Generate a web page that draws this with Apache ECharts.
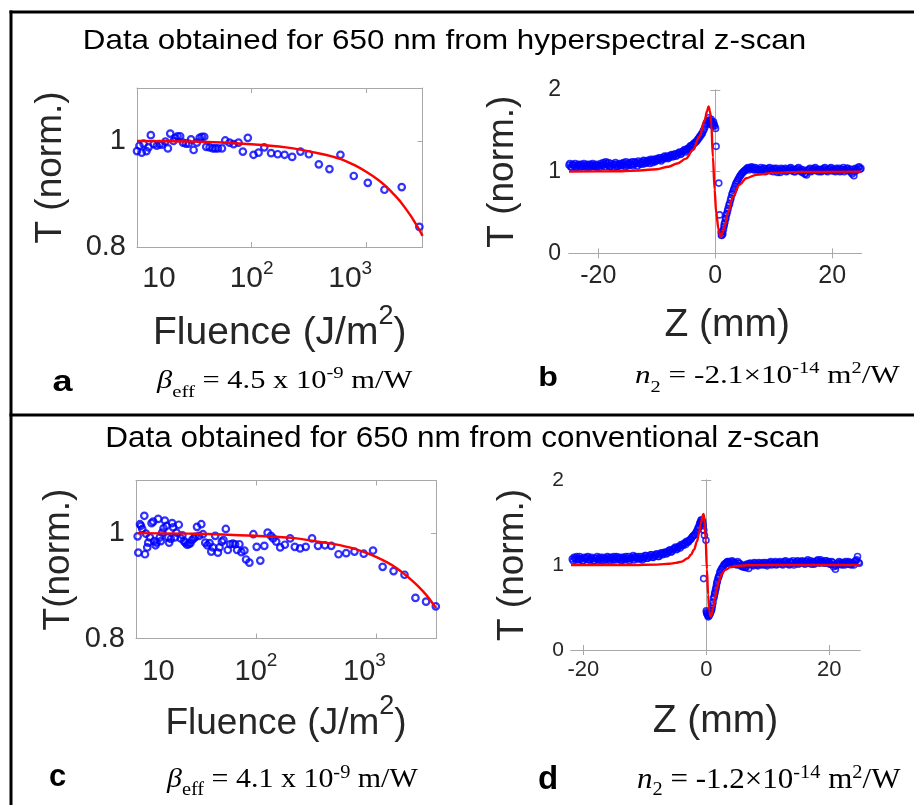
<!DOCTYPE html>
<html><head><meta charset="utf-8">
<script src="https://cdn.jsdelivr.net/npm/echarts@6/dist/echarts.min.js"></script>
<style>html,body{margin:0;padding:0;background:#fff}#c{width:914px;height:805px}</style>
</head><body><div id="c"></div>
<script>
// ---------- Panel a : hyperspectral, T vs fluence ----------
const fluenceA = [10.0,10.5,11.0,11.4,12.1,12.6,13.2,14.0,14.9,15.7,
  16.5,17.7,18.6,19.5,20.8,21.6,22.6,23.8,25.2,26.7,
  28.2,29.6,31.2,33.3,35.2,36.8,38.6,40.2,43.0,45.9,
  48.2,50.8,55.1,58.9,64.2,69.6,76.9,83.9,92.7,104,
  115,129,148,169,194,226,267,316,386,478,
  596,779,1033,1443,2042,2911];
const transA = [0.981,0.991,0.978,0.995,0.981,0.988,1.011,0.994,0.991,0.994,
  0.993,0.999,0.986,1.014,1.000,1.006,1.009,1.009,0.997,0.995,
  0.995,1.003,0.983,0.997,1.006,1.008,1.008,0.989,0.988,0.986,
  0.986,0.986,0.986,1.001,0.997,0.994,0.997,0.980,1.006,0.974,
  0.978,0.988,0.977,0.975,0.974,0.970,0.980,0.975,0.956,0.947,
  0.974,0.934,0.921,0.908,0.913,0.838];
const fitFluenceA = [10,30,100,200,400,600,800,1000,1250,1500,1750,2000,2250,2500,2750,3000,3100];
const fitTransA   = [1.0,0.999,0.994,0.988,0.976,0.966,0.954,0.942,0.928,0.914,0.899,0.885,0.870,0.856,0.841,0.827,0.821];

// ---------- Panel b : hyperspectral z-scan ----------
const zB = [-25.0,-24.7,-24.4,-24.1,-23.8,-23.5,-23.2,-22.9,-22.6,-22.3,-22.0,-21.7,-21.4,-21.1,-20.8,-20.5,-20.2,-19.9,-19.6,-19.3,
  -19.0,-18.7,-18.4,-18.1,-17.8,-17.5,-17.2,-16.9,-16.6,-16.3,-16.0,-15.7,-15.4,-15.1,-14.8,-14.5,-14.2,-13.9,-13.6,-13.3,
  -13.0,-12.7,-12.4,-12.1,-11.8,-11.5,-11.2,-10.9,-10.6,-10.3,-10.0,-9.7,-9.4,-9.1,-8.8,-8.5,-8.2,-7.9,-7.6,-7.3,
  -7.0,-6.7,-6.4,-6.1,-5.8,-5.5,-5.2,-4.9,-4.6,-4.3,-4.0,-3.7,-3.4,-3.1,-2.8,-2.5,
  -2.2,-1.9,-1.6,-1.3,-1.1,-0.9,-0.7,-0.5,-0.3,-0.1,0.15,0.6,0.74,1.0,1.15,1.3,1.5,1.65,1.8,2.0,2.2,2.45,2.7,2.95,
  3.2,3.5,3.8,4.1,4.4,4.7,5.0,5.3,5.6,5.9,6.2,6.5,6.8,7.1,
  7.5,7.8,8.1,8.4,8.7,9.0,9.3,9.6,9.9,10.2,10.5,10.8,11.1,11.4,11.7,12.0,12.3,12.6,12.9,13.2,
  13.5,13.8,14.1,14.4,14.7,15.0,15.3,15.6,15.9,16.2,16.5,16.8,17.1,17.4,17.7,18.0,18.3,18.6,18.9,19.2,
  19.5,19.8,20.1,20.4,20.7,21.0,21.3,21.6,21.9,22.2,22.5,22.8,23.1,23.4,23.7,24.0,24.3,24.6,24.9];
const tB = [1.08,1.06,1.09,1.07,1.05,1.08,1.07,1.09,1.06,1.08,1.05,1.07,1.09,1.06,1.08,1.07,1.05,1.08,1.10,1.07,
  1.09,1.12,1.08,1.06,1.10,1.08,1.05,1.09,1.07,1.10,1.08,1.11,1.06,1.09,1.10,1.08,1.12,1.09,1.11,1.07,
  1.10,1.12,1.09,1.13,1.11,1.14,1.10,1.13,1.15,1.12,1.16,1.14,1.17,1.15,1.18,1.16,1.19,1.17,1.20,1.18,
  1.21,1.19,1.22,1.24,1.22,1.25,1.27,1.26,1.29,1.31,1.30,1.34,1.36,1.38,1.41,1.44,
  1.47,1.52,1.58,1.63,1.66,1.60,1.64,1.58,1.61,1.56,1.31,0.86,0.47,0.26,0.22,0.24,0.33,0.38,0.43,0.49,0.55,0.61,0.68,0.74,
  0.79,0.85,0.89,0.93,0.96,0.99,1.01,1.03,1.05,1.04,1.06,1.03,1.05,1.02,
  1.03,1.05,1.02,1.04,1.01,1.03,1.05,1.02,1.00,1.03,1.04,1.01,0.99,1.03,1.02,1.04,1.01,1.03,1.05,1.02,
  1.00,1.03,1.04,1.01,1.03,1.00,0.97,0.96,1.02,1.04,1.01,1.03,1.05,1.02,1.00,1.03,1.01,1.04,1.02,1.00,
  1.03,1.05,1.02,1.01,1.04,1.02,1.00,1.03,1.05,1.02,1.04,1.01,1.03,0.97,0.95,1.04,1.02,1.06,1.04];
// second sweep of panel b (interleaved positions)
const zB2 = [-24.85,-24.55,-24.25,-23.95,-23.65,-23.35,-23.05,-22.75,-22.45,-22.15,
  -21.85,-21.55,-21.25,-20.95,-20.65,-20.35,-20.05,-19.75,-19.45,-19.15,
  -18.85,-18.55,-18.25,-17.95,-17.65,-17.35,-17.05,-16.75,-16.45,-16.15,
  -15.85,-15.55,-15.25,-14.95,-14.65,-14.35,-14.05,-13.75,-13.45,-13.15,
  -12.85,-12.55,-12.25,-11.95,-11.65,-11.35,-11.05,-10.75,-10.45,-10.15,
  -9.85,-9.55,-9.25,-8.95,-8.65,-8.35,-8.05,-7.75,-7.45,-7.15,
  -6.85,-6.55,-6.25,-5.95,-5.65,-5.35,-5.05,-4.75,-4.45,-4.15,
  -3.85,-3.55,-3.25,-2.95,-2.65,
  -2.35,-2.05,-1.75,-1.45,-1.2,-1.0,-0.8,-0.6,-0.4,-0.2,0.05,1.05,1.2,1.4,1.55,1.75,1.9,2.1,2.35,2.6,
  2.85,3.1,3.35,3.65,3.95,4.25,4.55,4.85,5.15,5.45,5.75,6.05,6.35,6.65,6.95,7.25,
  7.65,7.95,8.25,8.55,8.85,9.15,9.45,9.75,10.05,10.35,
  10.65,10.95,11.25,11.55,11.85,12.15,12.45,12.75,13.05,13.35,
  13.65,13.95,14.25,14.55,14.85,15.15,15.45,15.75,16.05,16.35,
  16.65,16.95,17.25,17.55,17.85,18.15,18.45,18.75,19.05,19.35,
  19.65,19.95,20.25,20.55,20.85,21.15,21.45,21.75,22.05,22.35,
  22.65,22.95,23.25,23.55,23.85,24.15,24.45,24.75];
const tB2 = [1.10,1.05,1.08,1.10,1.06,1.09,1.05,1.07,1.10,1.07,
  1.09,1.05,1.08,1.10,1.06,1.09,1.07,1.05,1.08,1.11,
  1.06,1.10,1.11,1.07,1.05,1.09,1.11,1.06,1.09,1.07,
  1.10,1.08,1.12,1.07,1.11,1.09,1.07,1.12,1.10,1.13,
  1.09,1.11,1.14,1.10,1.13,1.12,1.15,1.11,1.14,1.13,
  1.15,1.17,1.13,1.16,1.19,1.17,1.16,1.19,1.21,1.19,
  1.22,1.20,1.23,1.21,1.24,1.26,1.24,1.28,1.27,1.32,
  1.33,1.35,1.37,1.40,1.43,
  1.46,1.50,1.55,1.60,1.62,1.58,1.62,1.60,1.56,1.58,1.53,0.22,0.26,0.29,0.36,0.42,0.47,0.52,0.59,0.65,
  0.72,0.77,0.82,0.87,0.91,0.95,0.98,1.00,1.02,1.04,1.02,1.04,1.05,1.02,1.04,1.03,
  1.01,1.03,1.04,1.00,1.02,1.04,1.01,1.03,1.04,1.01,
  0.99,1.02,1.04,1.01,1.03,1.00,1.02,1.04,1.01,1.03,
  1.00,1.02,1.05,1.01,0.99,1.02,0.98,1.01,1.03,1.00,
  1.02,1.04,1.01,1.03,1.02,1.00,1.03,1.05,1.01,1.02,
  1.04,1.01,1.03,1.00,1.02,1.04,1.01,1.03,1.00,1.02,
  1.04,1.01,0.99,1.03,1.00,1.02,1.05,1.03];
const fitZB = [-25,-16,-13,-10,-8,-6.5,-5,-3.8,-2.7,-1.8,-1.4,-1.14,-0.9,-0.68,-0.4,-0.11,0.17,0.57,0.91,1.2,1.6,2.17,3.0,4.16,5.3,7.0,9.9,14,25];
const fitTB = [1.0,1.005,1.015,1.03,1.06,1.10,1.16,1.27,1.43,1.63,1.74,1.80,1.74,1.59,1.18,0.78,0.49,0.29,0.20,0.25,0.33,0.49,0.69,0.84,0.92,0.96,0.985,0.997,1.0];

// ---------- Panel c : conventional, T vs fluence ----------
const fluenceC = [10.32,10.45,10.79,11.0,11.28,11.73,11.88,12.1,12.41,12.65,
  13.06,13.48,13.92,14.19,14.55,14.84,15.31,15.8,16.11,16.53,
  16.96,17.39,17.95,18.53,18.89,19.5,20.0,20.39,21.05,21.73,
  22.72,23.6,24.36,25.15,25.79,26.63,27.49,28.38,29.31,30.25,
  31.23,32.24,33.49,35.02,36.14,37.78,39.26,41.05,42.38,43.75,
  45.74,48.13,49.68,51.94,53.62,56.05,58.23,60.88,64.06,66.98,
  69.58,72.75,75.57,80.06,82.64,88.05,95.06,101.3,108.6,117.3,
  125,133.2,139.2,147.4,159.1,173.9,192.5,210.5,233.1,259.7,
  293.1,328.6,375.5,423.8,487.4,564.2,661.4,790.4,944.5,1136,
  1401,1728,2132,2613,3150];
const transC = [0.994,0.963,1.017,1.014,1.008,1.033,0.960,0.999,0.973,0.982,
  0.992,1.019,1.022,0.985,0.977,0.982,1.027,0.992,0.985,1.001,
  1.009,1.024,1.014,0.992,0.982,0.989,1.019,1.011,0.992,1.001,
  1.016,0.990,0.996,0.985,0.982,0.978,0.979,0.981,0.987,0.990,
  0.993,1.012,0.995,1.017,0.998,0.982,0.977,0.981,0.965,0.973,
  0.995,0.963,0.973,0.984,0.987,1.008,0.968,0.979,0.980,0.979,
  0.968,0.979,0.964,0.967,0.950,0.944,0.998,0.974,0.948,0.976,
  1.001,0.995,0.990,0.984,0.973,0.978,0.990,0.974,0.971,0.974,
  0.990,0.976,0.977,0.976,0.960,0.962,0.965,0.961,0.967,0.936,
  0.928,0.921,0.877,0.870,0.861];
const fitFluenceC = [10.3,30,100,200,400,600,800,1000,1250,1500,1750,2000,2250,2500,2750,3000,3162];
const fitTransC   = [1.0,0.999,0.995,0.991,0.981,0.973,0.964,0.955,0.944,0.933,0.921,0.910,0.899,0.888,0.877,0.865,0.858];

// ---------- Panel d : conventional z-scan ----------
const zD = [-21.8,-21.5,-21.2,-20.9,-20.6,-20.3,-20.0,-19.7,-19.4,-19.1,-18.8,-18.5,-18.2,-17.9,-17.6,-17.3,-17.0,-16.7,-16.4,-16.1,
  -15.8,-15.5,-15.2,-14.9,-14.6,-14.3,-14.0,-13.7,-13.4,-13.1,-12.8,-12.5,-12.2,-11.9,-11.6,-11.3,-11.0,-10.7,-10.4,-10.1,
  -9.8,-9.5,-9.2,-8.9,-8.6,-8.3,-8.0,-7.7,-7.4,-7.1,-6.8,-6.5,-6.2,-5.9,-5.6,-5.3,-5.0,-4.7,-4.4,-4.1,
  -3.8,-3.5,-3.2,-2.9,-2.6,-2.3,-2.0,-1.7,-1.4,
  -1.2,-1.0,-0.85,-0.7,-0.6,-0.5,-0.43,-0.4,-0.3,-0.05,0.0,0.1,0.25,0.4,0.55,0.7,0.85,1.0,1.2,1.35,
  1.5,1.65,1.8,2.0,2.2,2.45,2.7,3.0,3.3,
  3.6,3.9,4.2,4.5,4.8,5.1,5.4,5.7,6.0,6.3,6.6,6.9,7.2,7.5,7.8,8.1,8.4,8.7,9.0,9.3,
  9.6,9.9,10.2,10.5,10.8,11.1,11.4,11.7,12.0,12.3,12.6,12.9,13.2,13.5,13.8,14.1,14.4,14.7,15.0,15.3,
  15.6,15.9,16.2,16.5,16.8,17.1,17.4,17.7,18.0,18.3,18.6,18.9,19.2,19.5,19.8,20.1,20.4,20.7,21.0,21.3,
  21.6,21.9,22.2,22.5,22.8,23.1,23.4,23.7,24.0,24.3,24.6,24.9];
const tD = [1.07,1.09,1.06,1.08,1.10,1.07,1.05,1.08,1.09,1.06,1.08,1.07,1.05,1.08,1.06,1.09,1.07,1.05,1.08,1.10,
  1.07,1.09,1.06,1.08,1.10,1.07,1.09,1.06,1.08,1.10,1.07,1.05,1.08,1.11,1.09,1.07,1.10,1.08,1.06,1.09,
  1.11,1.08,1.10,1.12,1.09,1.11,1.13,1.10,1.14,1.12,1.15,1.13,1.16,1.18,1.16,1.19,1.21,1.19,1.22,1.24,
  1.23,1.26,1.28,1.27,1.30,1.33,1.35,1.38,1.42,
  1.45,1.50,1.53,1.49,1.52,1.46,0.84,1.41,1.35,1.29,0.46,0.43,0.41,0.40,0.42,0.44,0.47,0.52,0.61,0.66,
  0.71,0.76,0.81,0.86,0.91,0.95,0.98,1.01,1.03,
  1.04,1.02,1.05,1.03,1.01,1.04,1.02,1.00,0.98,0.97,1.01,0.96,1.02,1.00,1.03,1.01,0.99,1.02,1.00,1.03,
  1.01,0.99,1.02,1.04,1.01,1.03,1.00,1.02,1.04,1.01,1.03,1.05,1.02,1.00,1.03,1.05,1.02,1.04,1.01,1.03,
  1.05,1.02,1.04,1.06,1.03,1.01,1.04,1.02,1.05,1.03,1.06,1.04,1.02,1.05,1.03,1.01,1.04,0.98,0.95,1.02,
  1.04,1.01,1.03,1.00,1.02,1.04,1.01,1.03,1.00,1.05,1.10,1.02];
// second sweep of panel d (interleaved positions)
const zD2 = [-21.65,-21.35,-21.05,-20.75,-20.45,-20.15,-19.85,-19.55,-19.25,-18.95,
  -18.65,-18.35,-18.05,-17.75,-17.45,-17.15,-16.85,-16.55,-16.25,-15.95,
  -15.65,-15.35,-15.05,-14.75,-14.45,-14.15,-13.85,-13.55,-13.25,-12.95,
  -12.65,-12.35,-12.05,-11.75,-11.45,-11.15,-10.85,-10.55,-10.25,-9.95,
  -9.65,-9.35,-9.05,-8.75,-8.45,-8.15,-7.85,-7.55,-7.25,-6.95,
  -6.65,-6.35,-6.05,-5.75,-5.45,-5.15,-4.85,-4.55,-4.25,-3.95,
  -3.65,-3.35,-3.05,-2.75,-2.45,-2.15,-1.85,-1.55,
  -1.3,-1.1,-0.95,-0.75,-0.55,0.05,0.18,0.32,0.48,0.62,0.78,0.92,1.1,1.28,1.42,1.58,1.72,1.9,2.1,2.3,2.55,2.85,3.15,3.45,
  3.75,4.05,4.35,4.65,4.95,5.25,5.55,5.85,6.15,6.45,
  6.75,7.05,7.35,7.65,7.95,8.25,8.55,8.85,9.15,9.45,
  9.75,10.05,10.35,10.65,10.95,11.25,11.55,11.85,12.15,12.45,
  12.75,13.05,13.35,13.65,13.95,14.25,14.55,14.85,15.15,15.45,
  15.75,16.05,16.35,16.65,16.95,17.25,17.55,17.85,18.15,18.45,
  18.75,19.05,19.35,19.65,19.95,20.25,20.55,20.85,21.15,21.45,
  21.75,22.05,22.35,22.65,22.95,23.25,23.55,23.85,24.15,24.45,24.75];
const tD2 = [1.05,1.08,1.10,1.06,1.08,1.05,1.09,1.07,1.10,1.06,
  1.09,1.05,1.08,1.10,1.07,1.05,1.09,1.08,1.06,1.09,
  1.05,1.08,1.10,1.06,1.09,1.07,1.05,1.09,1.06,1.08,
  1.10,1.07,1.09,1.06,1.10,1.08,1.07,1.10,1.08,1.11,
  1.08,1.10,1.12,1.09,1.11,1.13,1.10,1.12,1.14,1.13,
  1.15,1.14,1.17,1.15,1.18,1.20,1.18,1.21,1.20,1.23,
  1.25,1.24,1.27,1.29,1.31,1.34,1.36,1.40,
  1.44,1.48,1.50,1.53,1.49,0.44,0.42,0.39,0.41,0.43,0.46,0.49,0.56,0.63,0.68,0.73,0.79,0.84,0.88,0.93,0.96,1.00,1.02,1.04,
  1.02,1.04,1.01,1.03,1.00,1.02,0.99,0.98,1.00,0.97,
  1.00,1.02,1.01,0.99,1.02,1.00,1.03,1.01,1.02,1.00,
  1.03,1.01,1.03,1.00,1.02,1.04,1.01,1.03,1.02,1.00,
  1.04,1.02,1.01,1.04,1.02,1.00,1.03,1.05,1.02,1.04,
  1.03,1.01,1.04,1.02,1.05,1.03,1.01,1.04,1.06,1.02,
  1.04,1.03,1.05,1.02,1.04,1.01,1.03,1.00,0.99,1.01,
  1.03,1.00,1.02,1.04,1.01,1.03,1.00,1.02,1.04,1.06,1.03];
const fitZD = [-22,-12,-8,-6,-5,-4,-3,-2.5,-2,-1.5,-1.2,-0.9,-0.6,-0.45,-0.3,-0.1,0.1,0.3,0.5,0.7,0.9,1.1,1.4,1.7,2.0,2.5,3,4,5,7,10,25];
const fitTD = [1.0,1.0,1.005,1.015,1.025,1.04,1.08,1.12,1.18,1.28,1.37,1.48,1.58,1.60,1.55,1.30,0.95,0.65,0.45,0.395,0.42,0.49,0.60,0.71,0.80,0.89,0.94,0.975,0.99,0.997,1.0,1.0];

// ---------- tick labels / names ----------
const yTicksA = [0.8, 1];
const yTicksB = [0, 1, 2];
const zTicks = [-20, 0, 20];
const titles = ['Data obtained for 650 nm from hyperspectral z-scan', 'Data obtained for 650 nm from conventional z-scan'];

const zip = (a, b) => a.map((v, i) => [v, b[i]]);
const GRAY = '#a8a8a8', TXT = '#262626';
const SANS = '"Liberation Sans", Arial, Helvetica, sans-serif';
const SERIF = '"Liberation Serif", "Times New Roman", serif';

function logFmt(v) {
  const l = Math.log10(v), e = Math.round(l);
  if (Math.abs(l - e) > 1e-6) return '';
  if (e === 1) return '{p|10}';
  if (e === 2) return '{b|10}{s|2}';
  if (e === 3) return '{b|10}{t|3}';
  return '';
}
function logRich(fs, padP, padT) {
  return {
    p: {fontSize: fs, lineHeight: 40, fontFamily: SANS, color: TXT, padding: [0, 0, 0, padP]},
    b: {fontSize: fs, lineHeight: 40, fontFamily: SANS, color: TXT},
    s: {fontSize: 19, lineHeight: 20, verticalAlign: 'top', fontFamily: SANS, color: TXT},
    t: {fontSize: 19, lineHeight: 20, verticalAlign: 'top', fontFamily: SANS, color: TXT, padding: [0, padT, 0, 0]}
  };
}
const lineAx = {show: true, lineStyle: {color: GRAY, width: 1}};
const tickIn = {show: true, inside: true, length: 5, lineStyle: {color: GRAY, width: 1}};

const grids = [
  {left: 137, top: 88, width: 285.5, height: 159},
  {left: 569, top: 90, width: 292.5, height: 163.3},
  {left: 136, top: 480.5, width: 300, height: 158},
  {left: 571, top: 480, width: 289, height: 170}
];

const xAxis = [], yAxis = [], series = [];
const ringStyle = w => ({color: 'rgba(0,0,0,0)', borderColor: '#0000ff', borderWidth: w});

function fluencePanel(g, xmax, fluence, trans, fitF, fitT, cfg) {
  xAxis.push({
    type: 'log', logBase: 10, gridIndex: g, min: 10, max: xmax, position: 'bottom',
    axisLine: lineAx, axisTick: tickIn, splitLine: {show: false}, minorTick: {show: false},
    axisLabel: {margin: cfg.lblMargin, showMinLabel: true, showMaxLabel: false, formatter: logFmt,
      rich: logRich(cfg.xfs, cfg.padP, cfg.padT)},
    name: 'Fluence (J/m{s|2})', nameLocation: 'middle', nameGap: cfg.xNameGap,
    nameTextStyle: {fontSize: cfg.xNameFs, lineHeight: 60, fontFamily: SANS, color: TXT,
      rich: {s: {fontSize: 27, lineHeight: 27, verticalAlign: 'top', fontFamily: SANS, color: TXT}}}
  });
  xAxis.push({
    type: 'log', logBase: 10, gridIndex: g, min: 10, max: xmax, position: 'top',
    axisLine: lineAx, axisTick: tickIn, axisLabel: {show: false}, splitLine: {show: false}
  });
  yAxis.push({
    type: 'value', gridIndex: g, min: 0.8, max: 1.1, position: 'left',
    axisLine: lineAx, axisTick: Object.assign({customValues: yTicksA}, tickIn), splitLine: {show: false},
    axisLabel: {customValues: yTicksA, margin: 11, fontSize: cfg.yfs, fontFamily: SANS, color: TXT,
      formatter: v => (Math.abs(v - 1) < 1e-9 ? '1' : v.toFixed(1))},
    name: cfg.yName, nameLocation: 'middle', nameGap: cfg.yNameGap, nameRotate: 90,
    nameTextStyle: {fontSize: 37, lineHeight: 37, fontFamily: SANS, color: TXT}
  });
  yAxis.push({
    type: 'value', gridIndex: g, min: 0.8, max: 1.1, position: 'right',
    axisLine: lineAx, axisTick: Object.assign({customValues: yTicksA}, tickIn), axisLabel: {show: false}, splitLine: {show: false}
  });
  const xi = xAxis.length - 2, yi = yAxis.length - 2;
  series.push({type: 'scatter', xAxisIndex: xi, yAxisIndex: yi, data: zip(fluence, trans), symbol: 'circle', symbolSize: 6.5,
    itemStyle: ringStyle(2.2), z: 3});
  series.push({type: 'line', xAxisIndex: xi, yAxisIndex: yi, data: zip(fitF, fitT), showSymbol: false, smooth: 0.3,
    lineStyle: {color: '#ff0000', width: 2.4}, z: 5});
}

function zPanel(g, xmin, xmax, z, t, z2, t2, fz, ft, cfg) {
  xAxis.push({
    type: 'value', gridIndex: g, min: xmin, max: xmax, position: 'bottom',
    axisLine: lineAx, axisTick: Object.assign({customValues: zTicks}, tickIn), splitLine: {show: false},
    axisLabel: {customValues: zTicks, margin: cfg.lblMargin, fontSize: cfg.xfs, fontFamily: SANS, color: TXT},
    name: 'Z (mm)', nameLocation: 'middle', nameGap: cfg.xNameGap,
    nameTextStyle: {fontSize: cfg.xNameFs, lineHeight: 46, fontFamily: SANS, color: TXT, padding: cfg.namePad}
  });
  xAxis.push({
    type: 'value', gridIndex: g, min: xmin, max: xmax, position: 'top',
    axisLine: lineAx, axisTick: Object.assign({customValues: zTicks}, tickIn), axisLabel: {show: false}, splitLine: {show: false}
  });
  yAxis.push({
    type: 'value', gridIndex: g, min: 0, max: 2, interval: 1, position: 'left',
    axisLine: lineAx, axisTick: Object.assign({customValues: yTicksB}, tickIn), splitLine: {show: false},
    axisLabel: {customValues: yTicksB, margin: cfg.yMargin, fontSize: cfg.yfs, fontFamily: SANS, color: TXT},
    name: 'T (norm.)', nameLocation: 'middle', nameGap: cfg.yNameGap, nameRotate: 90,
    nameTextStyle: {fontSize: 37, lineHeight: 37, fontFamily: SANS, color: TXT}
  });
  yAxis.push({
    type: 'value', gridIndex: g, min: 0, max: 2, interval: 1, position: 'right',
    axisLine: lineAx, axisTick: Object.assign({customValues: yTicksB}, tickIn), axisLabel: {show: false}, splitLine: {show: false}
  });
  const xi = xAxis.length - 2, yi = yAxis.length - 2;
  series.push({type: 'scatter', xAxisIndex: xi, yAxisIndex: yi, data: zip(z, t).concat(zip(z2, t2)), symbol: 'circle', symbolSize: 6,
    itemStyle: ringStyle(1.6), z: 3});
  series.push({type: 'line', xAxisIndex: xi, yAxisIndex: yi, data: zip(fz, ft), showSymbol: false, smooth: 0.35, smoothMonotone: 'x',
    lineStyle: {color: '#ff0000', width: 2.4}, z: 5});
}

fluencePanel(0, 3100, fluenceA, transA, fitFluenceA, fitTransA,
  {lblMargin: 12, xfs: 30, padP: 44, padT: 32, xNameGap: 56, xNameFs: 39, yfs: 29, yName: 'T (norm.)', yNameGap: 68});
zPanel(1, -25, 25, zB, tB, zB2, tB2, fitZB, fitTB,
  {lblMargin: 10, xfs: 25, xNameGap: 49, xNameFs: 39, namePad: [0, 0, 0, 24], yMargin: 8, yfs: 23, yNameGap: 48});
fluencePanel(2, 3162, fluenceC, transC, fitFluenceC, fitTransC,
  {lblMargin: 13, xfs: 29, padP: 45, padT: 23, xNameGap: 55, xNameFs: 37, yfs: 29, yName: 'T(norm.)', yNameGap: 59});
zPanel(3, -22, 25, zD, tD, zD2, tD2, fitZD, fitTD,
  {lblMargin: 9, xfs: 22, xNameGap: 48, xNameFs: 39, namePad: [0, 0, 0, 0], yMargin: 7, yfs: 21, yNameGap: 40});

function serifRich(fs, sfs) {
  return {
    i: {fontSize: fs, fontFamily: SERIF, fontStyle: 'italic', fill: '#000', lineHeight: 40},
    n: {fontSize: fs, fontFamily: SERIF, fill: '#000', lineHeight: 40},
    sub: {fontSize: sfs, fontFamily: SERIF, fill: '#000', lineHeight: sfs, verticalAlign: 'bottom'},
    sup: {fontSize: sfs, fontFamily: SERIF, fill: '#000', lineHeight: sfs, verticalAlign: 'top', padding: [4, 0, 0, 0]}
  };
}
const frame = {stroke: '#000', lineWidth: 3};
const graphic = [
  {type: 'line', shape: {x1: 11, y1: 10.5, x2: 11, y2: 805}, style: frame},
  {type: 'line', shape: {x1: 9.5, y1: 12, x2: 914, y2: 12}, style: frame},
  {type: 'line', shape: {x1: 9.5, y1: 415, x2: 914, y2: 415}, style: frame},
  {type: 'text', x: 444.5, y: 41.7, scaleX: 1.12, style: {text: titles[0], font: '28px ' + SANS, fill: '#000', align: 'center', verticalAlign: 'middle'}},
  {type: 'text', x: 462.5, y: 439, scaleX: 1.05, style: {text: titles[1], font: '30px ' + SANS, fill: '#000', align: 'center', verticalAlign: 'middle'}},
  {type: 'text', x: 62.5, y: 382.5, scaleX: 1.2, style: {text: 'a', font: 'bold 30px ' + SANS, fill: '#000', align: 'center', verticalAlign: 'middle'}},
  {type: 'text', x: 548, y: 378, scaleX: 1.15, style: {text: 'b', font: 'bold 28px ' + SANS, fill: '#000', align: 'center', verticalAlign: 'middle'}},
  {type: 'text', x: 57.5, y: 777, scaleX: 1.0, style: {text: 'c', font: 'bold 31px ' + SANS, fill: '#000', align: 'center', verticalAlign: 'middle'}},
  {type: 'text', x: 548, y: 780, scaleX: 1.0, style: {text: 'd', font: 'bold 33px ' + SANS, fill: '#000', align: 'center', verticalAlign: 'middle'}},
  {type: 'text', x: 157, y: 381, scaleX: 1.22, style: {text: '{i|β}{sub|eff}{n| = 4.5 x 10}{sup|-9}{n| m/W}', rich: serifRich(25, 17), align: 'left', verticalAlign: 'middle'}},
  {type: 'text', x: 635, y: 376, scaleX: 1.2, style: {text: '{i|n}{sub|2}{n| = -2.1×10}{sup|-14}{n| m}{sup|2}{n|/W}', rich: serifRich(26, 17), align: 'left', verticalAlign: 'middle'}},
  {type: 'text', x: 167, y: 780, scaleX: 1.07, style: {text: '{i|β}{sub|eff}{n| = 4.1 x 10}{sup|-9}{n| m/W}', rich: serifRich(28, 19), align: 'left', verticalAlign: 'middle'}},
  {type: 'text', x: 637, y: 780, scaleX: 1.07, style: {text: '{i|n}{sub|2}{n| = -1.2×10}{sup|-14}{n| m}{sup|2}{n|/W}', rich: serifRich(29, 19), align: 'left', verticalAlign: 'middle'}}
];

const chart = echarts.init(document.getElementById('c'), null, {renderer: 'canvas'});
chart.setOption({
  animation: false,
  backgroundColor: '#ffffff',
  textStyle: {fontFamily: SANS},
  grid: grids,
  xAxis: xAxis,
  yAxis: yAxis,
  series: series,
  graphic: graphic
});
</script>
</body></html>
